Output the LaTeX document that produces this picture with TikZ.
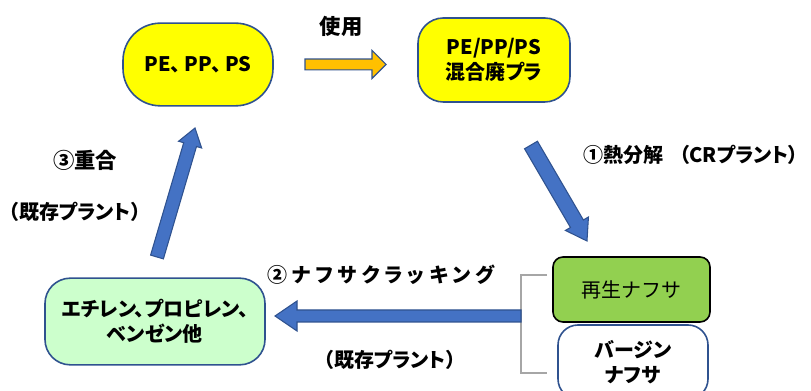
\documentclass[tikz,border=0pt]{standalone}
\usepackage{fontspec}
\setmainfont{Noto Sans CJK JP}[RawFeature=+palt]
\newfontfamily\jpfull{Noto Sans CJK JP}
\usetikzlibrary{calc}
\definecolor{yel}{HTML}{FFFF00}
\definecolor{bord}{HTML}{2F528F}
\definecolor{arrblue}{HTML}{4472C4}
\definecolor{orn}{HTML}{FFC000}
\definecolor{lgreen}{HTML}{CCFFCC}
\definecolor{regen}{HTML}{92D050}
\definecolor{brk}{HTML}{A6A6A6}
\newcommand\blockarrow[6]{%
  \coordinate (ba-h) at ($(#3)!#6!(#2)$);
  \path[#1] ($(#2)!#4!90:(#3)$) -- ($(ba-h)!#4!90:(#3)$) -- ($(ba-h)!#5!90:(#3)$) -- (#3)
    -- ($(ba-h)!#5!-90:(#3)$) -- ($(ba-h)!#4!-90:(#3)$) -- ($(#2)!#4!-90:(#3)$) -- cycle;
}
\tikzset{
  box/.style={draw=bord, line width=1.2pt, align=center, font=\fontsize{15pt}{19pt}\selectfont\bfseries, inner sep=0pt},
  lbl/.style={font=\fontsize{15pt}{19pt}\selectfont\bfseries, inner sep=0pt},
  biglbl/.style={font=\fontsize{16pt}{19pt}\selectfont\bfseries, inner sep=0pt},
  barrow/.style={fill=arrblue, draw=bord, line width=0.8pt, line join=miter},
  oarrow/.style={fill=orn, draw=bord, line width=0.8pt, line join=miter},
}
\begin{document}
\begin{tikzpicture}[x=0.75pt,y=-0.75pt]
\useasboundingbox (0,0) rectangle (811,391);
\begin{scope}
\clip (0,0) rectangle (811,391);
% nodes
\node[box, fill=yel, minimum width=112.5pt, minimum height=62pt, rounded corners=28pt] (pe) at (198,64.5) {PE、\kern2.6pt PP、\kern2.6pt PS};
\node[box, fill=yel, minimum width=114pt, minimum height=63pt, rounded corners=19pt] (mix) at (494,60) {PE/PP/PS\\混合廃プラ};
\node[box, fill=regen, draw=black, font=\fontsize{15pt}{19pt}\selectfont\jpfull, minimum width=117.75pt, minimum height=48.75pt, rounded corners=7.5pt] (rn) at (631.5,289.5) {再生ナフサ};
\node[box, fill=white, minimum width=112.5pt, minimum height=55.5pt, rounded corners=15pt] (vn) at (633,362) {バージン\\ナフサ};
\node[box, fill=lgreen, minimum width=165pt, minimum height=65pt, rounded corners=19pt] (eth) at (155,321.5) {エチレン、プロピレン、\\ベンゼン他};
% bracket
\coordinate (bk1) at (547,275);
\coordinate (bk2) at (521,275);
\coordinate (bk3) at (521,373);
\coordinate (bk4) at (547,373);
\draw[brk, line width=0.8pt] (bk1) -- (bk2) -- (bk3) -- (bk4);
% arrows
\coordinate (o1) at (305,64.5);
\coordinate (o2) at (386,64.5);
\blockarrow{oarrow}{o1}{o2}{4.1pt}{10.5pt}{10.5pt}
\coordinate (d1) at (531,145);
\coordinate (d2) at (587,241);
\blockarrow{barrow}{d1}{d2}{5.6pt}{10pt}{15pt}
\coordinate (h1) at (521,316);
\coordinate (h2) at (275,316);
\blockarrow{barrow}{h1}{h2}{4.5pt}{11.25pt}{16.5pt}
\coordinate (u1) at (157,257);
\coordinate (u2) at (195,128);
\blockarrow{barrow}{u1}{u2}{5pt}{9pt}{13pt}
% labels
\node[biglbl] (use) at (341,26) {使用};
\node[lbl, anchor=east] (l1) at (799,155) {①熱分解\hspace{0.8em}（CRプラント）};
\node[biglbl] (l3) at (85,160) {③重合};
\node[lbl] (l3b) at (75,212) {（既存プラント）};
\node[lbl] (l2) at (381,275) {②\kern3.6pt ナ\kern3.6pt フ\kern3.6pt サ\kern3.6pt ク\kern3.6pt ラ\kern3.6pt ッ\kern3.6pt キ\kern3.6pt ン\kern3.6pt グ};
\node[lbl] (l2b) at (390,360) {（既存プラント）};
\end{scope}
\end{tikzpicture}
\end{document}
